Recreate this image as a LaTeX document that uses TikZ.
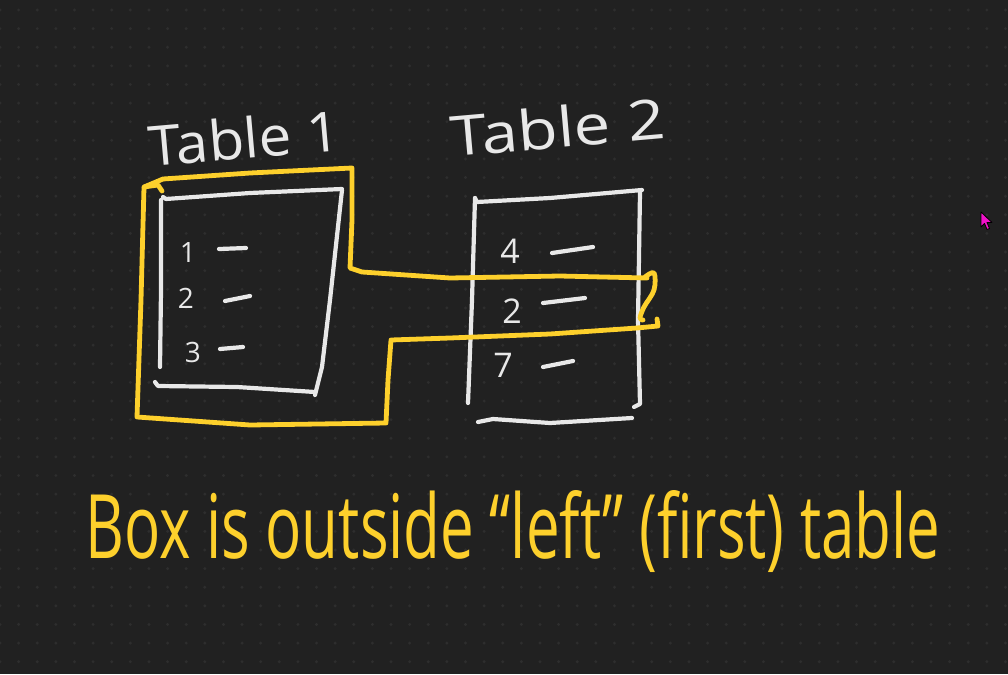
\documentclass[tikz,border=0pt]{standalone}
\usepackage{fontspec}
\setmainfont{Open Sans}
\definecolor{bg}{HTML}{212121}
\definecolor{dotc}{HTML}{2E2E2E}
\definecolor{chalk}{HTML}{E8E8E8}
\definecolor{marker}{HTML}{FDD02C}
\definecolor{cursorc}{HTML}{F012C8}
\begin{document}
\begin{tikzpicture}[x=1pt,y=-1pt,
  wstroke/.style={draw=chalk,line width=4.2pt,line cap=round,line join=round},
  ystroke/.style={draw=marker,line width=4.8pt,line cap=round,line join=round},
  numa/.style={text=chalk,font=\fontsize{28}{28}\selectfont,inner sep=0pt,anchor=base},
  numb/.style={text=chalk,font=\fontsize{34}{34}\selectfont,inner sep=0pt,anchor=base},
  title/.style={text=chalk,inner sep=0pt,anchor=base west,rotate=5},
  ]
\fill[bg] (0,0) rectangle (1008,674);
\useasboundingbox (0,0) rectangle (1008,674);
\foreach \i in {0,...,54}{\foreach \j in {0,...,35}{\fill[dotc] (\i*18.62,10+\j*18.62) circle (1.6);}}

% titles
\node[title] (t1) at (150,167) {\resizebox{192pt}{42pt}{Table 1}};
\node[title] (t2) at (452,157) {\resizebox{215pt}{42pt}{Table 2}};

% table 1
\draw[wstroke] (161,200) -- (161,290) -- (160,367);
\draw[wstroke] (163,197) -- (166,199) -- (250,193) -- (342,189);
\draw[wstroke] (342,190) -- (330,300) -- (322,367) -- (315,395);
\draw[wstroke] (155,382) -- (158,386) -- (237,387) -- (315,392);
\node[numa] (a1) at (188,262) {1};
\node[numa] (a2) at (186,308) {2};
\node[numa] (a3) at (193,362) {3};
\draw[wstroke] (219,249) -- (246,248);
\draw[wstroke] (225,301) -- (250,296);
\draw[wstroke] (220,349) -- (243,347);

% table 2
\draw[wstroke] (475,198) -- (472,300) -- (468,403);
\draw[wstroke] (475,198) -- (477,202) -- (550,198) -- (642,190);
\draw[wstroke] (640,192) -- (638,320) -- (640,404) -- (634,407);
\draw[wstroke] (478,422) -- (493,419) -- (550,423) -- (632,418);
\node[numb] (b1) at (510,263) {4};
\node[numb] (b2) at (512,323) {2};
\node[numb] (b3) at (503,377) {7};
\draw[wstroke] (552,253) -- (593,247);
\draw[wstroke] (543,303) -- (585,298);
\draw[wstroke] (543,367) -- (573,361);

% yellow box
\draw[ystroke] (162,191) -- (158,185) -- (144,187) -- (141,300) -- (137,417)
  -- (250,425) -- (386,423) -- (388,380) -- (391,340) -- (450,338) -- (550,334)
  -- (637,328) -- (658,326) -- (657,319);
\draw[ystroke] (144,187) -- (163,179) -- (250,173) -- (352,168) -- (352,220)
  -- (350,268) -- (362,272) -- (450,278) -- (560,276) -- (647,278);
\draw[ystroke] plot[smooth,tension=0.6] coordinates {(645,277) (654,273) (654,290) (644,307) (640,318) (643,320)};

% caption
\node[text=marker,inner sep=0pt,anchor=base west] (cap) at (85,558)
  {\resizebox{855pt}{68pt}{Box is outside “left” (first) table}};

% cursor
\filldraw[fill=cursorc,draw=black,line width=0.8pt,line join=round]
  (981,212) -- (981,227) -- (984.5,223.5) -- (987,229.5) -- (989.5,228.5) -- (987,222.5) -- (992,222.5) -- cycle;
\end{tikzpicture}
\end{document}
